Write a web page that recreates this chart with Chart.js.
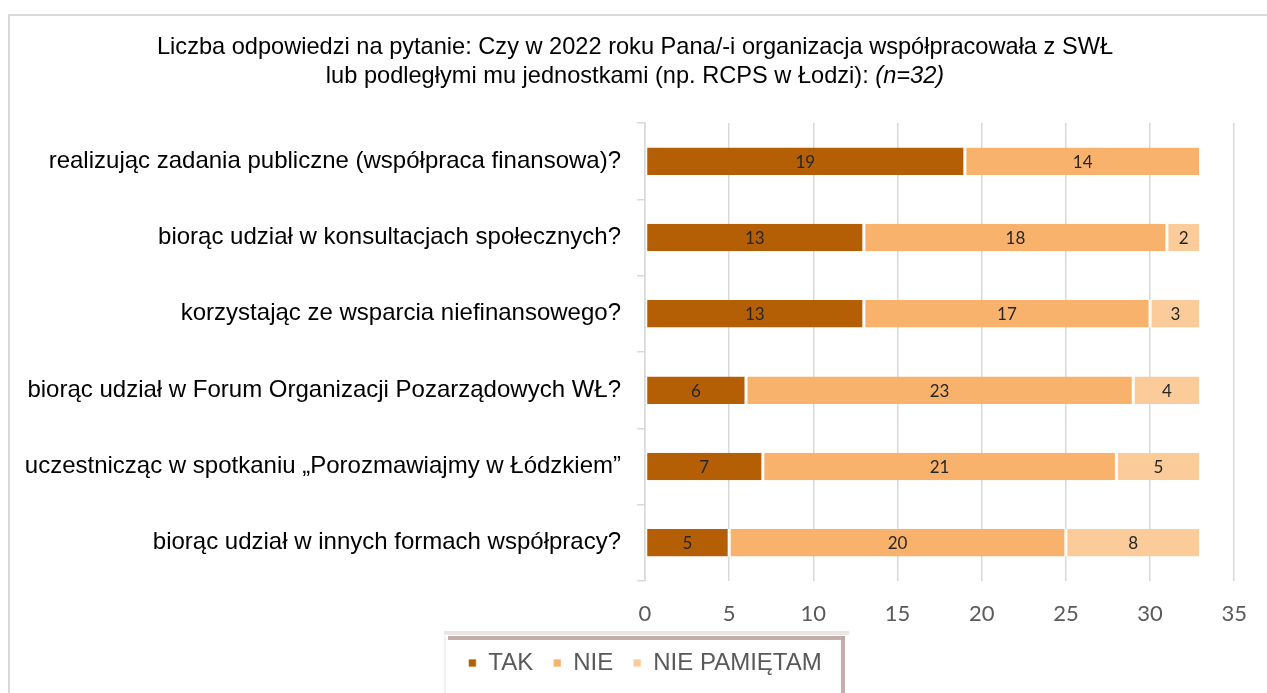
<!DOCTYPE html>
<html>
<head>
<meta charset="utf-8">
<script src="https://cdn.jsdelivr.net/npm/chart.js@4/dist/chart.umd.min.js"></script>
<style>
  html, body { margin: 0; padding: 0; background: #fff; }
  #wrap { width: 1267px; height: 693px; position: relative; }
</style>
</head>
<body>
<div id="wrap"><canvas id="chart1" width="1267" height="693"></canvas></div>
<script>
// dane z wykresu
const kategorie = [
    "realizując zadania publiczne (współpraca finansowa)?",
    "biorąc udział w konsultacjach społecznych?",
    "korzystając ze wsparcia niefinansowego?",
    "biorąc udział w Forum Organizacji Pozarządowych WŁ?",
    "uczestnicząc w spotkaniu „Porozmawiajmy w Łódzkiem”",
    "biorąc udział w innych formach współpracy?"
];
const tak = [19, 13, 13, 6, 7, 5];
const nie = [14, 18, 17, 23, 21, 20];
const niePamietam = [0, 2, 3, 4, 5, 8];
const osX = [0, 5, 10, 15, 20, 25, 30, 35];

const tytul1 = "Liczba odpowiedzi na pytanie: Czy w 2022 roku Pana/-i organizacja współpracowała z SWŁ";
const tytul2 = "lub podległymi mu jednostkami (np. RCPS w Łodzi): ";
const tytul2b = "(n=32)";

const FONT = "'Liberation Sans', Arial, sans-serif";
const FONT2 = "Lato, 'Open Sans', sans-serif";

// ramka, tytuł
const tloPlugin = {
    id: "tlo",
    afterLayout(chart) {
        // legenda przesunięta w prawo (środek nad osią jak w oryginale)
        chart.legend.left += 26;
        chart.legend.right += 26;
    },
    beforeDraw(chart) {
        const ctx = chart.ctx;
        ctx.save();
        ctx.strokeStyle = "#d9d9d9";
        ctx.lineWidth = 2;
        ctx.beginPath();
        ctx.moveTo(9, 700);
        ctx.lineTo(9, 15);
        ctx.lineTo(1280, 15);
        ctx.stroke();
        ctx.restore();
    },
    afterDraw(chart) {
        const ctx = chart.ctx;
        ctx.save();
        ctx.fillStyle = "#000";
        ctx.textBaseline = "middle";
        ctx.font = "23.6px " + FONT;
        const w1 = ctx.measureText(tytul1).width;
        ctx.fillText(tytul1, 635 - w1 / 2, 47);
        const w2 = ctx.measureText(tytul2).width;
        ctx.font = "italic 23.6px " + FONT;
        const w3 = ctx.measureText(tytul2b).width;
        const x0 = 635 - (w2 + w3) / 2;
        ctx.font = "23.6px " + FONT;
        ctx.fillText(tytul2, x0, 76);
        ctx.font = "italic 23.6px " + FONT;
        ctx.fillText(tytul2b, x0 + w2, 76);

        // ramka legendy
        const L = 448, R = 845, T = 636, B = 700;
        ctx.fillStyle = "rgba(235,225,225,0.9)";
        ctx.fillRect(L - 4, T - 5, R - L + 8, 4);
        ctx.fillStyle = "rgba(190,165,165,0.9)";
        ctx.fillRect(L, T, R - L, 4);
        ctx.fillRect(R - 4, T, 4, B - T);
        ctx.fillStyle = "rgba(240,235,235,0.8)";
        ctx.fillRect(L - 4, T, 2, B - T);
        ctx.restore();
    },
    afterDatasetsDraw(chart) {
        // etykiety wartości
        const ctx = chart.ctx;
        ctx.save();
        ctx.font = "17px " + FONT2;
        ctx.fillStyle = "#262626";
        ctx.textAlign = "center";
        ctx.textBaseline = "middle";
        chart.data.datasets.forEach((ds, i) => {
            chart.getDatasetMeta(i).data.forEach((el, j) => {
                const v = ds.data[j];
                if (!v) return;
                ctx.fillText(v, (el.x + el.base) / 2, el.y + 1);
            });
        });
        ctx.restore();
    }
};

const bialy = { top: 0, bottom: 0, left: 1.5, right: 1.5 };

new Chart("chart1", {
    type: "bar",
    data: {
        labels: kategorie,
        datasets: [
            { label: "TAK", data: tak, backgroundColor: "#b45f06", borderColor: "#fff", borderWidth: bialy, borderSkipped: false },
            { label: "NIE", data: nie, backgroundColor: "#f9b26b", borderColor: "#fff", borderWidth: bialy, borderSkipped: false },
            { label: "NIE PAMIĘTAM", data: niePamietam, backgroundColor: "#fbcb99", borderColor: "#fff", borderWidth: bialy, borderSkipped: false }
        ]
    },
    options: {
        indexAxis: "y",
        responsive: false,
        animation: false,
        layout: { padding: { top: 123, left: 0, right: 29, bottom: 8 } },
        datasets: { bar: { categoryPercentage: 1, barPercentage: 0.36 } },
        scales: {
            x: {
                stacked: true,
                min: 0, max: 35,
                afterBuildTicks(axis) { axis.ticks = osX.map(v => ({ value: v })); },
                grid: { color: "#d9d9d9", lineWidth: 1.5, drawTicks: false },
                border: { display: false },
                ticks: { color: "#595959", font: { size: 22, family: FONT2 }, padding: 20 },
                afterFit(axis) { axis.height = 50; }
            },
            y: {
                stacked: true,
                grid: { offset: true, drawOnChartArea: false, color: "#d9d9d9", lineWidth: 1.5, tickLength: 8 },
                border: { display: true, color: "#d9d9d9", width: 1.5 },
                ticks: { color: "#000", font: { size: 24, family: FONT }, padding: 16 },
                afterFit(axis) { axis.width = 645; }
            }
        },
        plugins: {
            legend: {
                position: "bottom",
                labels: {
                    color: "#595959",
                    font: { size: 24, family: FONT },
                    boxWidth: 8, boxHeight: 8,
                    padding: 20
                }
            },
            tooltip: { enabled: false }
        }
    },
    plugins: [tloPlugin]
});
</script>
</body>
</html>
